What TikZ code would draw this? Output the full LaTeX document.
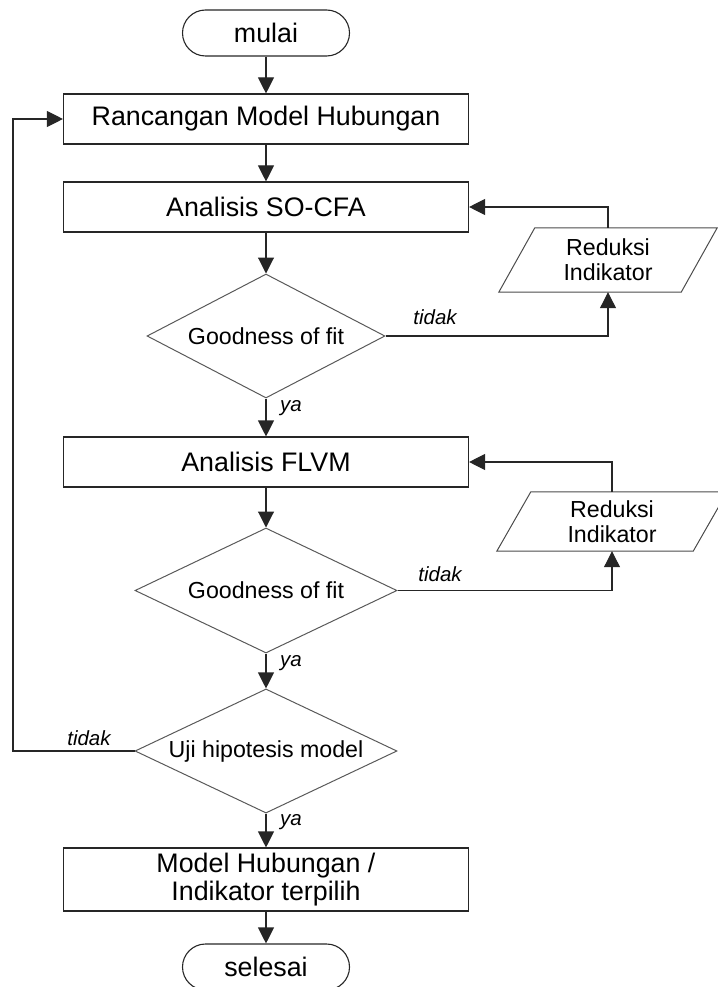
\documentclass[tikz,border=0pt]{standalone}
\usepackage{fontspec}
\setmainfont{Liberation Sans}
\usetikzlibrary{shapes.geometric, arrows.meta}

\begin{document}
\begin{tikzpicture}[x=1pt, y=-1pt,
  every node/.style={font=\fontsize{26.8}{28}\selectfont, text=black},
  procbox/.style={draw=black!85, line width=1.1pt, minimum width=405pt,
    minimum height=50pt, inner sep=0pt, align=center},
  termbox/.style={draw=black!85, line width=1.1pt, rounded corners=23pt,
    minimum width=167pt, minimum height=46pt, inner sep=0pt},
  decision/.style={diamond, draw=black!65, line width=1pt, shape aspect=1.9,
    inner sep=0pt, font=\fontsize{23.2}{25}\selectfont},
  iotext/.style={inner sep=0pt, align=center, font=\fontsize{23.2}{25}\selectfont},
  ioshape/.style={draw=black!70, line width=1pt},
  flow/.style={draw=black!85, line width=1.1pt, -{Triangle[length=16pt,width=16pt]}},
  lab/.style={font=\fontsize{20.5}{22}\selectfont\itshape, inner sep=0pt}
]
\useasboundingbox (0,0) rectangle (717,987);

% main column
\node[termbox] (mulai) at (266,33) {mulai};
\node[procbox] (ranc) at (266,119) {Rancangan Model Hubungan};
\node[procbox] (socfa) at (266,207) {Analisis SO-CFA};
\node[decision, minimum width=238pt, minimum height=124pt] (gof1) at (266,336) {Goodness of fit};
\node[procbox] (flvm) at (266,462) {Analisis FLVM};
\node[decision, minimum width=262pt, minimum height=125pt] (gof2) at (266,590.5) {Goodness of fit};
\node[decision, minimum width=262pt, minimum height=124pt] (uji) at (266,751) {Uji hipotesis model};
\node[procbox, minimum height=63pt] (hasil) at (266,879.5) {Model Hubungan /\\Indikator terpilih};
\node[termbox] (selesai) at (266,967) {selesai};

% indicator reduction (parallelograms)
\node[iotext, minimum width=182pt, minimum height=64pt] (red1) at (608,260) {Reduksi\\Indikator};
\draw[ioshape] ([xshift=-18pt]red1.south west) -- ([xshift=-18pt]red1.south east)
  -- ([xshift=18pt]red1.north east) -- ([xshift=18pt]red1.north west) -- cycle;
\node[iotext, minimum width=196pt, minimum height=59pt] (red2) at (612,521.5) {Reduksi\\Indikator};
\draw[ioshape] ([xshift=-17pt]red2.south west) -- ([xshift=-17pt]red2.south east)
  -- ([xshift=17pt]red2.north east) -- ([xshift=17pt]red2.north west) -- cycle;

% connectors
\draw[flow] (mulai.south) -- (ranc.north);
\draw[flow] (ranc.south) -- (socfa.north);
\draw[flow] (socfa.south) -- (gof1.north);
\draw[flow] (gof1.east) -| (red1.south);
\draw[flow] (red1.north) |- (socfa.east);
\draw[flow] (gof1.south) -- (flvm.north);
\draw[flow] (flvm.south) -- (gof2.north);
\draw[flow] (gof2.east) -| (red2.south);
\draw[flow] (red2.north) |- (flvm.east);
\draw[flow] (gof2.south) -- (uji.north);
\coordinate (back) at (13,751);
\draw[flow] (uji.west) -- (back) |- (ranc.west);
\draw[flow] (uji.south) -- (hasil.north);
\draw[flow] (hasil.south) -- (selesai.north);

% branch labels
\node[lab] (t1) at (435,317) {tidak};
\node[lab, anchor=west] (y1) at (280,408) {ya};
\node[lab] (t2) at (440,574) {tidak};
\node[lab, anchor=west] (y2) at (280,663) {ya};
\node[lab] (t3) at (89,738) {tidak};
\node[lab, anchor=west] (y3) at (280,822) {ya};
\end{tikzpicture}
\end{document}
